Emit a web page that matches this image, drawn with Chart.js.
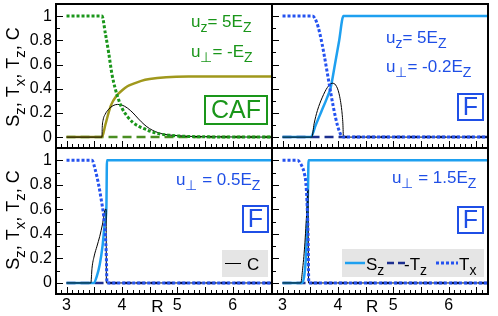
<!DOCTYPE html>
<html>
<head>
<meta charset="utf-8">
<script src="https://cdn.jsdelivr.net/npm/chart.js@4.4.0/dist/chart.umd.min.js"></script>
<style>
body { margin: 0; background: #fff; }
#wrap { position: relative; width: 498px; height: 316px; }
#wrap canvas { position: absolute; left: 0; top: 0; }
</style>
</head>
<body>
<div id="wrap">
  <canvas id="c0" width="498" height="316"></canvas>
  <canvas id="c1" width="498" height="316"></canvas>
  <canvas id="c2" width="498" height="316"></canvas>
  <canvas id="c3" width="498" height="316"></canvas>
</div>
<script>
// Axis ranges and tick labels
const xMin = 2.81, xMax = 6.71;
const yMin = -0.09, yMax = 1.1;
const xTickLabels = [3, 4, 5, 6];
const yTickLabels = [0, 0.2, 0.4, 0.6, 0.8, 1];

// CAF panel (u_z = 5E_Z, u_perp = -E_Z)
const cafTxR = [3.0, 3.64, 3.7, 3.76, 3.82, 3.88, 3.94, 4.0, 4.1, 4.2, 4.3, 4.4, 4.5, 4.7, 5.0, 5.4, 6.71];
const cafTx  = [1, 1, 0.86, 0.7, 0.52, 0.4, 0.31, 0.24, 0.17, 0.12, 0.09, 0.07, 0.05, 0.025, 0.01, 0.003, 0];
const cafSzR = [3.0, 3.64, 3.7, 3.8, 3.9, 4.0, 4.1, 4.2, 4.35, 4.5, 4.8, 5.2, 6.71];
const cafSz  = [0, 0, 0.1, 0.26, 0.34, 0.385, 0.42, 0.44, 0.465, 0.48, 0.495, 0.5, 0.5];
const cafCR  = [3.0, 3.64, 3.645, 3.66, 3.7, 3.76, 3.84, 3.92, 4.0, 4.1, 4.2, 4.3, 4.4, 4.5, 4.7, 5.0, 5.4, 6.71];
const cafC   = [0, 0, 0.08, 0.14, 0.19, 0.23, 0.26, 0.27, 0.265, 0.24, 0.2, 0.15, 0.105, 0.07, 0.03, 0.012, 0.004, 0];
const cafTzR = [3.0, 6.71];
const cafTz  = [0, 0];

// F panel, u_perp = -0.2E_Z
const f1TxR = [3.0, 3.54, 4.1, 6.71];
const f1Tx  = [1, 1, 0, 0];
const f1SzR = [3.0, 3.51, 3.6, 3.7, 3.8, 3.87, 3.95, 4.02, 4.1, 6.71];
const f1Sz  = [0, 0, 0.1, 0.21, 0.32, 0.41, 0.61, 0.79, 1, 1];
const f1CR  = [3.0, 3.53, 3.57, 3.63, 3.72, 3.81, 3.9, 3.96, 4.02, 4.07, 4.09, 4.1, 6.71];
const f1C   = [0, 0, 0.11, 0.22, 0.33, 0.41, 0.445, 0.43, 0.36, 0.22, 0.11, 0, 0];
const f1TzR = [3.0, 6.71];
const f1Tz  = [0, 0];

// F panel, u_perp = 0.5E_Z
const f2TxR = [3.0, 3.46, 3.52, 3.58, 3.63, 3.67, 3.7, 3.72, 3.73, 6.71];
const f2Tx  = [1, 1, 0.92, 0.8, 0.67, 0.55, 0.4, 0.2, 0, 0];
const f2SzR = [3.0, 3.49, 3.55, 3.6, 3.65, 3.69, 3.72, 3.73, 6.71];
const f2Sz  = [0, 0, 0.06, 0.15, 0.3, 0.48, 0.62, 1, 1];
const f2CR  = [3.0, 3.44, 3.46, 3.5, 3.55, 3.6, 3.65, 3.7, 3.715, 3.72, 6.71];
const f2C   = [0, 0, 0.12, 0.22, 0.3, 0.38, 0.48, 0.6, 0.6, 0, 0];
const f2TzR = [3.0, 6.71];
const f2Tz  = [0, 0];

// F panel, u_perp = 1.5E_Z
const f3TxR = [3.0, 3.27, 3.33, 3.39, 3.42, 3.44, 3.46, 3.475, 6.71];
const f3Tx  = [1, 1, 0.97, 0.9, 0.82, 0.68, 0.41, 0, 0];
const f3SzR = [3.0, 3.35, 3.39, 3.42, 3.44, 3.46, 3.47, 6.71];
const f3Sz  = [0, 0, 0.05, 0.19, 0.41, 0.76, 1, 1];
const f3CR  = [3.0, 3.33, 3.36, 3.4, 3.44, 3.46, 3.47, 6.71];
const f3C   = [0, 0, 0.1, 0.3, 0.6, 0.76, 0, 0];
const f3TzR = [3.0, 6.71];
const f3Tz  = [0, 0];

// Colours
const GREEN = '#1a961a', OLIVE = '#a0981c', DKGREEN = '#4a8e22';
const BLUE_TXT = '#1f4fe6', BLUE_TX = '#2452f0', LBLUE = '#1ea0f0', NAVY = '#1c2f8f';
const FONT = '"Liberation Sans", Arial, sans-serif';

// per-canvas extra drawing (texts, boxes, legends)
const decorations = {};

// draws text where parts starting with "_" are subscripts, returns width
function richText(ctx, x, y, parts, size, color, measureOnly) {
  let cx = x;
  ctx.fillStyle = color;
  ctx.textAlign = 'left';
  ctx.textBaseline = 'alphabetic';
  for (const part of parts) {
    const sub = part[0] === '_';
    const txt = sub ? part.slice(1) : part;
    ctx.font = (sub ? Math.round(size * 0.82) : size) + 'px ' + FONT;
    if (!measureOnly) ctx.fillText(txt, cx, y + (sub ? size * 0.32 : 0));
    cx += ctx.measureText(txt).width;
  }
  return cx - x;
}

function boxLabel(ctx, text, x, y, w, h, color, size) {
  ctx.strokeStyle = color;
  ctx.lineWidth = 2;
  ctx.strokeRect(x, y, w, h);
  ctx.fillStyle = color;
  ctx.font = size + 'px ' + FONT;
  ctx.textAlign = 'center';
  ctx.textBaseline = 'middle';
  ctx.fillText(text, x + w / 2, y + h / 2 + 1);
}

function yTitle(ctx, cy) {
  const parts = ['S', '_z', ', T', '_x', ', T', '_z', ', C'];
  ctx.save();
  ctx.translate(19, cy);
  ctx.rotate(-Math.PI / 2);
  const w = richText(ctx, 0, 0, parts, 18, '#000', true);
  richText(ctx, -w / 2, 0, parts, 18, '#000');
  ctx.restore();
}

// frame plus inward tick marks
const framePlugin = {
  id: 'frame',
  afterDatasetsDraw(chart) {
    const { ctx, chartArea: a, scales: { x, y } } = chart;
    ctx.save();
    ctx.strokeStyle = '#000';
    ctx.lineWidth = 1;
    for (let i = 29; i <= 67; i++) {
      const px = Math.round(x.getPixelForValue(i / 10)) + 0.5;
      const len = i % 5 === 0 ? 7 : 4;
      ctx.beginPath();
      ctx.moveTo(px, a.bottom);
      ctx.lineTo(px, a.bottom - len);
      ctx.stroke();
    }
    for (let i = 0; i <= 10; i++) {
      const py = Math.round(y.getPixelForValue(i / 10)) + 0.5;
      const len = i % 2 === 0 ? 7 : 4;
      ctx.beginPath();
      ctx.moveTo(a.left, py);
      ctx.lineTo(a.left + len, py);
      ctx.stroke();
    }
    ctx.lineWidth = 2;
    ctx.strokeRect(a.left, a.top, a.width, a.height);
    ctx.restore();
  },
  afterDraw(chart) {
    const decor = decorations[chart.canvas.id];
    if (decor) {
      chart.ctx.save();
      decor(chart.ctx, chart);
      chart.ctx.restore();
    }
  }
};

function series(r, v, color, width, dash) {
  return {
    data: r.map((rv, i) => ({ x: rv, y: v[i] })),
    borderColor: color,
    borderWidth: width,
    borderDash: dash || [],
    pointRadius: 0,
    fill: false,
    cubicInterpolationMode: 'monotone'
  };
}

function noPad(s) {
  s.paddingTop = 0; s.paddingBottom = 0; s.paddingLeft = 0; s.paddingRight = 0;
}

function makeChart(id, area, yLabels, xLabels, datasets, decor) {
  const yW = yLabels ? 56 : 0;
  const xH = xLabels ? 22 : 0;
  decorations[id] = decor;
  return new Chart(document.getElementById(id), {
    type: 'line',
    data: { datasets: datasets },
    options: {
      responsive: false,
      animation: false,
      events: [],
      layout: { padding: { left: area[0] - yW, top: area[1], right: 498 - area[2], bottom: 316 - area[3] - xH } },
      plugins: { legend: { display: false }, tooltip: { enabled: false } },
      scales: {
        x: {
          type: 'linear', min: xMin, max: xMax,
          grid: { display: false, drawTicks: false }, border: { display: false },
          afterBuildTicks: s => { s.ticks = xTickLabels.map(v => ({ value: v })); },
          afterFit: s => { s.height = xH; noPad(s); },
          ticks: { display: xLabels, padding: 2, color: '#000', maxRotation: 0, autoSkip: false,
                   font: { family: FONT, size: 16 }, callback: v => v }
        },
        y: {
          type: 'linear', min: yMin, max: yMax,
          grid: { display: false, drawTicks: false }, border: { display: false },
          afterBuildTicks: s => { s.ticks = yTickLabels.map(v => ({ value: v })); },
          afterFit: s => { s.width = yW; noPad(s); },
          ticks: { display: yLabels, padding: 4, color: '#000', autoSkip: false,
                   font: { family: FONT, size: 16 }, callback: v => v }
        }
      }
    },
    plugins: [framePlugin]
  });
}

// top left: CAF
makeChart('c0', [56, 4, 272, 148], true, false, [
  series(cafTxR, cafTx, GREEN, 3, [3, 2]),
  series(cafCR, cafC, '#000', 1),
  series(cafSzR, cafSz, OLIVE, 2.5),
  series(cafTzR, cafTz, DKGREEN, 2.5, [9, 5])
], (ctx) => {
  richText(ctx, 191, 27, ['u', '_z', '= 5E', '_Z'], 17, GREEN);
  richText(ctx, 191, 57, ['u', '_\u22a5', '= -E', '_Z'], 17, GREEN);
  boxLabel(ctx, 'CAF', 205, 96, 62, 28, GREEN, 25);
  yTitle(ctx, 77);
});

// top right: F, u_perp = -0.2
makeChart('c1', [272, 4, 488, 148], false, false, [
  series(f1TxR, f1Tx, BLUE_TX, 3, [3, 2]),
  series(f1CR, f1C, '#000', 1),
  series(f1SzR, f1Sz, LBLUE, 2.5),
  series(f1TzR, f1Tz, NAVY, 2.5, [9, 5])
], (ctx) => {
  richText(ctx, 386, 43, ['u', '_z', '= 5E', '_Z'], 17, BLUE_TXT);
  richText(ctx, 386, 72, ['u', '_\u22a5', '= -0.2E', '_Z'], 17, BLUE_TXT);
  boxLabel(ctx, 'F', 458, 94, 25, 26, BLUE_TXT, 25);
});

// bottom left: F, u_perp = 0.5
makeChart('c2', [56, 148, 272, 294], true, true, [
  series(f2TxR, f2Tx, BLUE_TX, 3, [3, 2]),
  series(f2CR, f2C, '#000', 1),
  series(f2SzR, f2Sz, LBLUE, 2.5),
  series(f2TzR, f2Tz, NAVY, 2.5, [9, 5])
], (ctx, chart) => {
  richText(ctx, 176, 185, ['u', '_\u22a5', ' = 0.5E', '_Z'], 17, BLUE_TXT);
  boxLabel(ctx, 'F', 243, 206, 25, 26, BLUE_TXT, 25);
  ctx.fillStyle = '#e5e5e5';
  ctx.fillRect(222, 250, 46, 27);
  ctx.strokeStyle = '#000'; ctx.lineWidth = 1;
  ctx.beginPath(); ctx.moveTo(225, 263.5); ctx.lineTo(241, 263.5); ctx.stroke();
  richText(ctx, 247, 270, ['C'], 17, '#000');
  yTitle(ctx, 220);
  ctx.fillStyle = '#000'; ctx.font = '17px ' + FONT; ctx.textAlign = 'center'; ctx.textBaseline = 'alphabetic';
  ctx.fillText('R', chart.scales.x.getPixelForValue(4.64), 312);
});

// bottom right: F, u_perp = 1.5
makeChart('c3', [272, 148, 488, 294], false, true, [
  series(f3TxR, f3Tx, BLUE_TX, 3, [3, 2]),
  series(f3CR, f3C, '#000', 1),
  series(f3SzR, f3Sz, LBLUE, 2.5),
  series(f3TzR, f3Tz, NAVY, 2.5, [9, 5])
], (ctx, chart) => {
  richText(ctx, 392, 183, ['u', '_\u22a5', ' = 1.5E', '_Z'], 17, BLUE_TXT);
  boxLabel(ctx, 'F', 458, 207, 25, 26, BLUE_TXT, 25);
  ctx.fillStyle = '#e5e5e5';
  ctx.fillRect(342, 249, 142, 28);
  ctx.lineWidth = 2.5;
  ctx.strokeStyle = LBLUE;
  ctx.beginPath(); ctx.moveTo(345, 263); ctx.lineTo(365, 263); ctx.stroke();
  richText(ctx, 366, 270, ['S', '_z'], 17, '#000');
  ctx.strokeStyle = NAVY; ctx.setLineDash([7, 4]);
  ctx.beginPath(); ctx.moveTo(387, 263); ctx.lineTo(405, 263); ctx.stroke();
  richText(ctx, 404, 270, ['-T', '_z'], 17, '#000');
  ctx.strokeStyle = BLUE_TX; ctx.lineWidth = 3; ctx.setLineDash([3, 2]);
  ctx.beginPath(); ctx.moveTo(436, 263); ctx.lineTo(458, 263); ctx.stroke();
  ctx.setLineDash([]);
  richText(ctx, 459, 270, ['T', '_x'], 17, '#000');
  ctx.fillStyle = '#000'; ctx.font = '17px ' + FONT; ctx.textAlign = 'center'; ctx.textBaseline = 'alphabetic';
  ctx.fillText('R', chart.scales.x.getPixelForValue(4.62), 312);
});
</script>
</body>
</html>
